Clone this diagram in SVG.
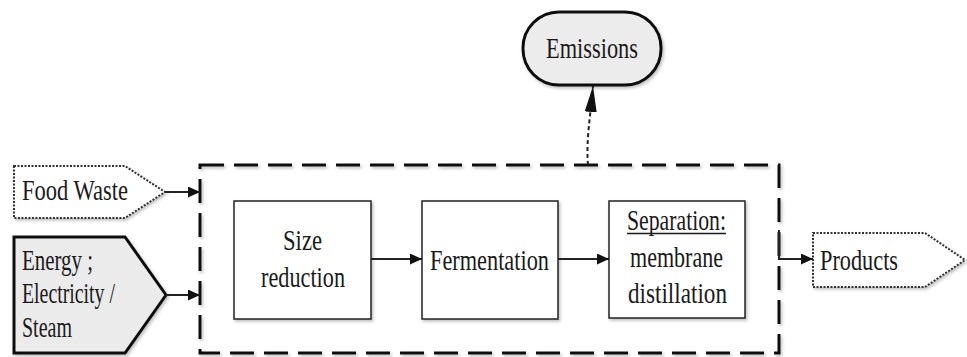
<svg xmlns="http://www.w3.org/2000/svg" width="967" height="357" viewBox="0 0 967 357">
<defs>
  <filter id="sh" x="-10%" y="-10%" width="130%" height="130%">
    <feDropShadow dx="1.5" dy="2" stdDeviation="1.5" flood-color="#000" flood-opacity="0.25"/>
  </filter>
  <marker id="ah" viewBox="0 0 12 11" refX="12" refY="5.5" markerWidth="12" markerHeight="11" markerUnits="userSpaceOnUse" orient="auto">
    <path d="M0,0 L12,5.5 L0,11 Z" fill="#111"/>
  </marker>
  <marker id="ahl" viewBox="0 0 26 12" refX="26" refY="6" markerWidth="26" markerHeight="12" markerUnits="userSpaceOnUse" orient="auto">
    <path d="M0,0 L26,6 L0,12 Z" fill="#111"/>
  </marker>
</defs>
<style>
  .box { fill: #fff; stroke: #222; stroke-width: 1.5; }
  .dot { fill: #fff; stroke: #333; stroke-width: 2; stroke-dasharray: 2 1.5; }
  .conn { fill: none; stroke: #222; stroke-width: 2; }
  .t { font-family: "Liberation Serif", "Times New Roman", serif; font-size: 29px; fill: #1a1a1a; }
</style>
<rect width="967" height="357" fill="#fff"/>

<g id="boundary">
  <rect x="200" y="165" width="579" height="188" fill="none" stroke="#111" stroke-width="3" stroke-dasharray="24 10" filter="url(#sh)"/>
</g>

<g id="food-waste">
  <path class="dot" d="M14,166 L125,166 L165,192 L125,218 L14,218 Z" filter="url(#sh)"/>
  <text class="t" x="22" y="200" textLength="106" lengthAdjust="spacingAndGlyphs">Food Waste</text>
</g>

<g id="energy">
  <path d="M14,237 L125,237 L166,295 L125,353 L14,353 Z" fill="#ebebeb" stroke="#111" stroke-width="3" filter="url(#sh)"/>
  <text class="t" x="22" y="270" textLength="71" lengthAdjust="spacingAndGlyphs">Energy ;</text>
  <text class="t" x="22" y="303" textLength="93" lengthAdjust="spacingAndGlyphs">Electricity /</text>
  <text class="t" x="22" y="337" textLength="50" lengthAdjust="spacingAndGlyphs">Steam</text>
</g>

<g id="size-reduction">
  <rect class="box" x="234" y="201" width="137" height="118" filter="url(#sh)"/>
  <text class="t" x="283" y="250" textLength="39" lengthAdjust="spacingAndGlyphs">Size</text>
  <text class="t" x="261" y="287" textLength="84" lengthAdjust="spacingAndGlyphs">reduction</text>
</g>

<g id="fermentation">
  <rect class="box" x="422" y="201" width="136" height="118" filter="url(#sh)"/>
  <text class="t" x="430" y="270" textLength="119" lengthAdjust="spacingAndGlyphs">Fermentation</text>
</g>

<g id="separation">
  <rect class="box" x="609" y="201" width="136" height="117" filter="url(#sh)"/>
  <text class="t" x="627" y="230" textLength="99" lengthAdjust="spacingAndGlyphs">Separation:</text>
  <line x1="627" y1="233.5" x2="726" y2="233.5" stroke="#1a1a1a" stroke-width="1.5"/>
  <text class="t" x="630" y="267" textLength="93" lengthAdjust="spacingAndGlyphs">membrane</text>
  <text class="t" x="628" y="303" textLength="99" lengthAdjust="spacingAndGlyphs">distillation</text>
</g>

<g id="products">
  <path class="dot" d="M813,233 L925,233 L965,260 L925,287 L813,287 Z" filter="url(#sh)"/>
  <text class="t" x="820" y="270" textLength="78" lengthAdjust="spacingAndGlyphs">Products</text>
</g>

<g id="emissions">
  <rect x="523" y="12" width="138" height="73" rx="36" ry="36" fill="#ececec" stroke="#111" stroke-width="3" filter="url(#sh)"/>
  <text class="t" x="546" y="58" textLength="92" lengthAdjust="spacingAndGlyphs">Emissions</text>
</g>

<g id="connectors">
  <line class="conn" x1="165" y1="192" x2="200" y2="192" marker-end="url(#ah)"/>
  <line class="conn" x1="166" y1="295" x2="200" y2="295" marker-end="url(#ah)"/>
  <line class="conn" x1="371" y1="259" x2="422" y2="259" marker-end="url(#ah)"/>
  <line class="conn" x1="558" y1="259" x2="609" y2="259" marker-end="url(#ah)"/>
  <path class="conn" d="M779,230 L779,259 L813,259" marker-end="url(#ah)"/>
  <path class="conn" d="M588,165 C586,140 590,120 593,86" stroke-dasharray="4 3" stroke-width="1.8" marker-end="url(#ahl)"/>
</g>
</svg>
